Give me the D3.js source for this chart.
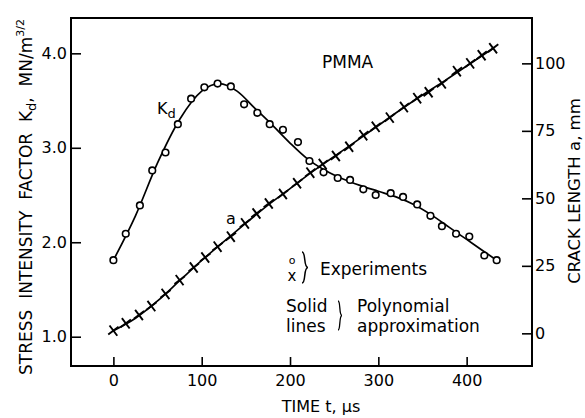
<!DOCTYPE html>
<html>
  <head>
    <meta charset="UTF-8">
    <script src="https://d3js.org/d3.v7.min.js"></script>
    <style>
      body { margin: 0; background: #fff; }
      svg text { font-family: "DejaVu Sans", sans-serif; fill: #000; }
    </style>
  </head>
  <body>
    <svg id="chart" width="585" height="418"></svg>
    <script type="text/javascript">
      // experiments
      var timeKd = [0, 14, 30, 44, 59, 73, 88, 103, 118, 133, 148, 163, 177, 192, 209, 222, 238, 254, 268, 283, 297, 314, 328, 344, 359, 372, 388, 403, 420, 434];
      var kd = [1.81, 2.09, 2.39, 2.76, 2.95, 3.25, 3.52, 3.64, 3.68, 3.65, 3.46, 3.37, 3.25, 3.19, 3.06, 2.86, 2.74, 2.68, 2.66, 2.56, 2.50, 2.52, 2.48, 2.40, 2.28, 2.17, 2.09, 2.06, 1.86, 1.81];
      var timeA = [0, 14, 29, 43, 59, 75, 91, 104, 118, 133, 149, 162, 176, 192, 208, 223, 237, 252, 267, 283, 297, 313, 329, 344, 357, 372, 389, 404, 417, 430];
      var crack = [1.0, 3.7, 6.8, 10.1, 14.6, 19.7, 24.4, 28.1, 32.1, 35.8, 40.7, 44.4, 48.1, 51.6, 55.6, 59.5, 62.7, 65.7, 69.1, 73.4, 76.5, 79.9, 83.8, 87.1, 89.3, 92.6, 97.1, 100.0, 103.0, 105.6];

      // polynomial approximation (solid lines)
      var fitTimeKd = [0, 25, 50, 75, 100, 120, 140, 160, 180, 200, 220, 240, 260, 280, 300, 320, 340, 360, 380, 400, 420, 434];
      var fitKd = [1.81, 2.28, 2.84, 3.30, 3.60, 3.68, 3.60, 3.42, 3.24, 3.05, 2.88, 2.76, 2.67, 2.60, 2.54, 2.48, 2.40, 2.29, 2.16, 2.03, 1.90, 1.81];
      var fitTimeA = [0, 25, 50, 75, 100, 125, 150, 175, 200, 225, 250, 275, 300, 325, 350, 375, 400, 430];
      var fitA = [1.0, 5.6, 12.0, 19.5, 27.0, 34.0, 40.8, 47.5, 53.6, 59.8, 65.5, 71.2, 77.0, 82.8, 88.3, 93.5, 99.0, 105.6];

      var tTicks = [0, 100, 200, 300, 400];
      var kdTicks = [1.0, 2.0, 3.0, 4.0];
      var aTicks = [0, 25, 50, 75, 100];

      var padL = 71, padR = 532, padT = 18, padB = 366;
      var svg = d3.select('#chart');

      var x = d3.scaleLinear().domain([-48, 474]).range([padL, padR]);
      var yK = d3.scaleLinear().domain([0.69, 4.374]).range([padB, padT]);
      var yA = d3.scaleLinear().domain([-12.1, 116.8]).range([padB, padT]);

      // frame
      svg.append('rect')
        .attr('x', padL).attr('y', padT)
        .attr('width', padR - padL).attr('height', padB - padT)
        .attr('fill', 'none').attr('stroke', '#000').attr('stroke-width', 2);

      function styleAxis(g) {
        g.select('.domain').remove();
        g.selectAll('line').attr('stroke', '#000').attr('stroke-width', 1.6);
        g.selectAll('text').attr('font-size', 16).attr('font-family', null);
      }

      svg.append('g').attr('transform', 'translate(0,' + padB + ')')
        .call(d3.axisBottom(x).tickValues(tTicks).tickSize(-9).tickPadding(9).tickFormat(d3.format('d')))
        .call(styleAxis);
      svg.append('g').attr('transform', 'translate(' + padL + ',0)')
        .call(d3.axisLeft(yK).tickValues(kdTicks).tickSize(-10).tickPadding(4).tickFormat(d3.format('.1f')))
        .call(styleAxis);
      svg.append('g').attr('transform', 'translate(' + padR + ',0)')
        .call(d3.axisRight(yA).tickValues(aTicks).tickSize(-10).tickPadding(3).tickFormat(d3.format('d')))
        .call(styleAxis);

      // fitted curves
      var lineK = d3.line().curve(d3.curveMonotoneX)
        .x(function(d, i) { return x(fitTimeKd[i]); })
        .y(function(d) { return yK(d); });
      var lineA = d3.line().curve(d3.curveMonotoneX)
        .x(function(d, i) { return x(fitTimeA[i]); })
        .y(function(d) { return yA(d); });

      svg.append('path').attr('d', lineK(fitKd))
        .attr('fill', 'none').attr('stroke', '#000').attr('stroke-width', 1.7);
      svg.append('path').attr('d', lineA(fitA))
        .attr('fill', 'none').attr('stroke', '#000').attr('stroke-width', 1.7);

      // experiment points
      svg.append('g').selectAll('circle').data(kd).enter().append('circle')
        .attr('cx', function(d, i) { return x(timeKd[i]); })
        .attr('cy', function(d) { return yK(d); })
        .attr('r', 3.3)
        .attr('fill', '#fff').attr('stroke', '#000').attr('stroke-width', 1.6);

      svg.append('g').selectAll('path').data(crack).enter().append('path')
        .attr('transform', function(d, i) { return 'translate(' + x(timeA[i]) + ',' + yA(d) + ') rotate(8)'; })
        .attr('d', d3.symbol(d3.symbolX, 56))
        .attr('fill', 'none').attr('stroke', '#000').attr('stroke-width', 1.9);

      // labels inside the plot
      svg.append('text').attr('x', 322).attr('y', 68).attr('font-size', 17).text('PMMA');
      var kl = svg.append('text').attr('x', 157).attr('y', 114).attr('font-size', 16);
      kl.append('tspan').text('K');
      kl.append('tspan').attr('font-size', 13).attr('dy', 4).text('d');
      svg.append('text').attr('x', 226).attr('y', 224).attr('font-size', 16).text('a');

      // legend
      svg.append('text').attr('x', 292).attr('y', 264).attr('font-size', 11).attr('text-anchor', 'middle').text('o');
      svg.append('text').attr('x', 292).attr('y', 281).attr('font-size', 15).attr('text-anchor', 'middle').text('x');
      function brace(x0, y0, y1, w) {
        var m = (y0 + y1) / 2;
        return 'M' + x0 + ',' + y0 +
          'C' + (x0 + w * 0.7) + ',' + y0 + ' ' + (x0 + w * 0.2) + ',' + m + ' ' + (x0 + w) + ',' + m +
          'C' + (x0 + w * 0.2) + ',' + m + ' ' + (x0 + w * 0.7) + ',' + y1 + ' ' + x0 + ',' + y1;
      }
      svg.append('path').attr('d', brace(302, 252, 283, 6))
        .attr('fill', 'none').attr('stroke', '#000').attr('stroke-width', 1.5);
      svg.append('path').attr('d', brace(338, 301, 330, 4))
        .attr('fill', 'none').attr('stroke', '#000').attr('stroke-width', 1.3);
      svg.append('text').attr('x', 320).attr('y', 275).attr('font-size', 17).text('Experiments');
      svg.append('text').attr('x', 286).attr('y', 312).attr('font-size', 17).text('Solid');
      svg.append('text').attr('x', 286).attr('y', 332).attr('font-size', 17).text('lines');
      svg.append('text').attr('x', 357).attr('y', 312).attr('font-size', 17).text('Polynomial');
      svg.append('text').attr('x', 357).attr('y', 332).attr('font-size', 17).text('approximation');

      // axis titles
      svg.append('text').attr('x', 321).attr('y', 412).attr('font-size', 16)
        .attr('text-anchor', 'middle').text('TIME t, µs');

      var lt = svg.append('text').attr('transform', 'translate(32,197) rotate(-90)')
        .attr('font-size', 17).attr('text-anchor', 'middle').attr('xml:space', 'preserve');
      lt.append('tspan').text('STRESS  INTENSITY  FACTOR  K');
      lt.append('tspan').attr('font-size', 13).attr('dy', 4).text('d');
      lt.append('tspan').attr('dy', -4).text(',  MN/m');
      lt.append('tspan').attr('font-size', 11).attr('dy', -8).text('3/2');

      svg.append('text').attr('transform', 'translate(580,191) rotate(-90)')
        .attr('font-size', 16.5).attr('text-anchor', 'middle').text('CRACK LENGTH  a, mm');
    </script>
  </body>
</html>
